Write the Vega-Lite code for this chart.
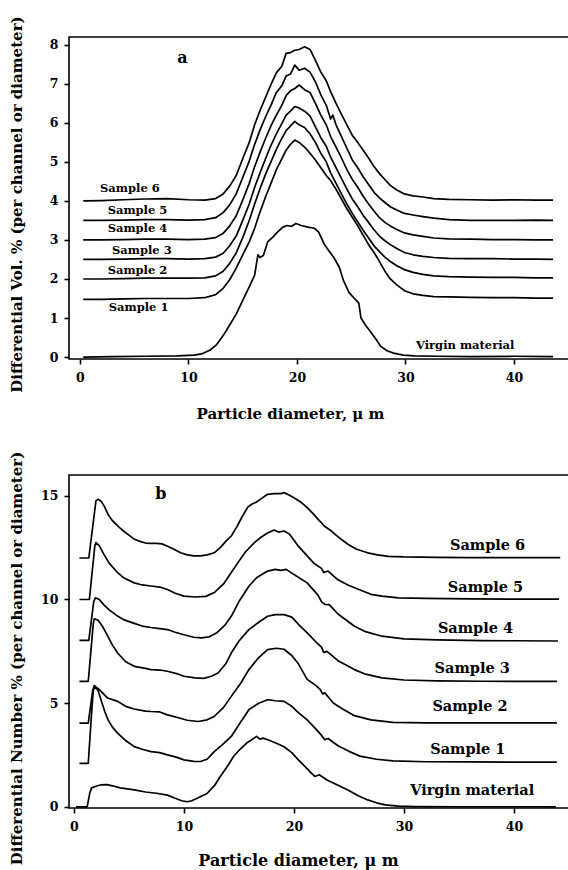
{
  "$schema": "https://vega.github.io/schema/vega-lite/v6.json",
  "autosize": {"type": "pad"},
  "padding": {"left": 8, "top": 15, "right": 0, "bottom": 2},
  "bounds": "flush",
  "spacing": 116,
  "config": {
    "font": "DejaVu Serif",
    "view": {"stroke": "black", "strokeWidth": 1.6},
    "axis": {
      "grid": false,
      "domain": false,
      "tickColor": "black",
      "tickSize": 5,
      "tickWidth": 1.6,
      "labelFont": "DejaVu Serif",
      "labelFontWeight": "bold",
      "labelFontSize": 12.5,
      "labelColor": "black",
      "titleFont": "DejaVu Serif",
      "titleFontWeight": "bold",
      "titleFontSize": 15,
      "titleColor": "black",
      "titleBaseline": "middle"
    }
  },
  "datasets": {
    "curves": [
      {"p":"a","s":"V","x":0.3,"y":0},{"p":"a","s":"V","x":3,"y":0.01},{"p":"a","s":"V","x":6,"y":0.02},{"p":"a","s":"V","x":9,"y":0.03},{"p":"a","s":"V","x":10.5,"y":0.05},{"p":"a","s":"V","x":11.2,"y":0.08},{"p":"a","s":"V","x":12,"y":0.18},{"p":"a","s":"V","x":12.6,"y":0.32},{"p":"a","s":"V","x":13.2,"y":0.55},{"p":"a","s":"V","x":13.8,"y":0.82},{"p":"a","s":"V","x":14.4,"y":1.1},{"p":"a","s":"V","x":15.0,"y":1.45},{"p":"a","s":"V","x":15.6,"y":1.8},{"p":"a","s":"V","x":16.1,"y":2.1},{"p":"a","s":"V","x":16.4,"y":2.62},{"p":"a","s":"V","x":16.6,"y":2.55},{"p":"a","s":"V","x":16.9,"y":2.6},{"p":"a","s":"V","x":17.3,"y":2.95},{"p":"a","s":"V","x":17.8,"y":3.08},{"p":"a","s":"V","x":18.2,"y":3.2},{"p":"a","s":"V","x":18.7,"y":3.33},{"p":"a","s":"V","x":19.1,"y":3.37},{"p":"a","s":"V","x":19.5,"y":3.35},{"p":"a","s":"V","x":19.9,"y":3.42},{"p":"a","s":"V","x":20.4,"y":3.37},{"p":"a","s":"V","x":21.0,"y":3.33},{"p":"a","s":"V","x":21.6,"y":3.3},{"p":"a","s":"V","x":22.0,"y":3.2},{"p":"a","s":"V","x":22.5,"y":2.9},{"p":"a","s":"V","x":23.0,"y":2.7},{"p":"a","s":"V","x":23.4,"y":2.55},{"p":"a","s":"V","x":23.9,"y":2.3},{"p":"a","s":"V","x":24.3,"y":1.95},{"p":"a","s":"V","x":24.8,"y":1.65},{"p":"a","s":"V","x":25.3,"y":1.5},{"p":"a","s":"V","x":25.7,"y":1.38},{"p":"a","s":"V","x":25.9,"y":1.0},{"p":"a","s":"V","x":26.3,"y":0.82},{"p":"a","s":"V","x":26.8,"y":0.64},{"p":"a","s":"V","x":27.3,"y":0.45},{"p":"a","s":"V","x":27.7,"y":0.28},{"p":"a","s":"V","x":28.3,"y":0.16},{"p":"a","s":"V","x":28.9,"y":0.1},{"p":"a","s":"V","x":29.8,"y":0.05},{"p":"a","s":"V","x":30.8,"y":0.03},{"p":"a","s":"V","x":33,"y":0.02},{"p":"a","s":"V","x":36,"y":0.01},{"p":"a","s":"V","x":40,"y":0.02},{"p":"a","s":"V","x":43.6,"y":0.01},

      {"p":"a","s":"S6","x":0.3,"y":4.0},{"p":"a","s":"S6","x":2,"y":4.01},{"p":"a","s":"S6","x":4,"y":4.03},{"p":"a","s":"S6","x":6,"y":4.05},{"p":"a","s":"S6","x":8,"y":4.06},{"p":"a","s":"S6","x":10,"y":4.03},{"p":"a","s":"S6","x":11.5,"y":4.02},{"p":"a","s":"S6","x":12.5,"y":4.06},{"p":"a","s":"S6","x":13.2,"y":4.18},{"p":"a","s":"S6","x":13.8,"y":4.38},{"p":"a","s":"S6","x":14.4,"y":4.65},{"p":"a","s":"S6","x":15.0,"y":5.08},{"p":"a","s":"S6","x":15.6,"y":5.5},{"p":"a","s":"S6","x":16.1,"y":5.95},{"p":"a","s":"S6","x":16.6,"y":6.32},{"p":"a","s":"S6","x":17.1,"y":6.65},{"p":"a","s":"S6","x":17.6,"y":6.98},{"p":"a","s":"S6","x":18.1,"y":7.28},{"p":"a","s":"S6","x":18.6,"y":7.45},{"p":"a","s":"S6","x":19.0,"y":7.78},{"p":"a","s":"S6","x":19.4,"y":7.8},{"p":"a","s":"S6","x":19.8,"y":7.86},{"p":"a","s":"S6","x":20.2,"y":7.88},{"p":"a","s":"S6","x":20.7,"y":7.95},{"p":"a","s":"S6","x":21.2,"y":7.88},{"p":"a","s":"S6","x":21.7,"y":7.6},{"p":"a","s":"S6","x":22.2,"y":7.3},{"p":"a","s":"S6","x":22.7,"y":7.08},{"p":"a","s":"S6","x":23.1,"y":6.8},{"p":"a","s":"S6","x":23.6,"y":6.5},{"p":"a","s":"S6","x":24.1,"y":6.22},{"p":"a","s":"S6","x":24.6,"y":5.95},{"p":"a","s":"S6","x":25.1,"y":5.68},{"p":"a","s":"S6","x":25.6,"y":5.5},{"p":"a","s":"S6","x":26.1,"y":5.3},{"p":"a","s":"S6","x":26.6,"y":5.1},{"p":"a","s":"S6","x":27.1,"y":4.88},{"p":"a","s":"S6","x":27.6,"y":4.7},{"p":"a","s":"S6","x":28.1,"y":4.55},{"p":"a","s":"S6","x":28.6,"y":4.4},{"p":"a","s":"S6","x":29.2,"y":4.28},{"p":"a","s":"S6","x":29.9,"y":4.18},{"p":"a","s":"S6","x":30.7,"y":4.13},{"p":"a","s":"S6","x":31.6,"y":4.1},{"p":"a","s":"S6","x":32.6,"y":4.06},{"p":"a","s":"S6","x":34,"y":4.04},{"p":"a","s":"S6","x":36,"y":4.03},{"p":"a","s":"S6","x":38,"y":4.02},{"p":"a","s":"S6","x":40,"y":4.03},{"p":"a","s":"S6","x":42,"y":4.02},{"p":"a","s":"S6","x":43.6,"y":4.02},

      {"p":"a","s":"S5","x":0.3,"y":3.5},{"p":"a","s":"S5","x":2,"y":3.5},{"p":"a","s":"S5","x":4,"y":3.51},{"p":"a","s":"S5","x":6,"y":3.52},{"p":"a","s":"S5","x":8,"y":3.52},{"p":"a","s":"S5","x":10,"y":3.51},{"p":"a","s":"S5","x":11.5,"y":3.52},{"p":"a","s":"S5","x":12.5,"y":3.57},{"p":"a","s":"S5","x":13.2,"y":3.7},{"p":"a","s":"S5","x":13.8,"y":3.9},{"p":"a","s":"S5","x":14.4,"y":4.18},{"p":"a","s":"S5","x":15.0,"y":4.6},{"p":"a","s":"S5","x":15.6,"y":5.02},{"p":"a","s":"S5","x":16.1,"y":5.45},{"p":"a","s":"S5","x":16.6,"y":5.82},{"p":"a","s":"S5","x":17.1,"y":6.15},{"p":"a","s":"S5","x":17.6,"y":6.45},{"p":"a","s":"S5","x":18.1,"y":6.78},{"p":"a","s":"S5","x":18.6,"y":6.95},{"p":"a","s":"S5","x":19.0,"y":7.2},{"p":"a","s":"S5","x":19.4,"y":7.25},{"p":"a","s":"S5","x":19.8,"y":7.48},{"p":"a","s":"S5","x":20.2,"y":7.35},{"p":"a","s":"S5","x":20.7,"y":7.4},{"p":"a","s":"S5","x":21.2,"y":7.3},{"p":"a","s":"S5","x":21.7,"y":7.05},{"p":"a","s":"S5","x":22.2,"y":6.72},{"p":"a","s":"S5","x":22.7,"y":6.45},{"p":"a","s":"S5","x":23.1,"y":6.1},{"p":"a","s":"S5","x":23.3,"y":6.2},{"p":"a","s":"S5","x":23.6,"y":5.95},{"p":"a","s":"S5","x":24.1,"y":5.65},{"p":"a","s":"S5","x":24.6,"y":5.35},{"p":"a","s":"S5","x":25.1,"y":5.05},{"p":"a","s":"S5","x":25.6,"y":4.85},{"p":"a","s":"S5","x":26.1,"y":4.62},{"p":"a","s":"S5","x":26.6,"y":4.42},{"p":"a","s":"S5","x":27.1,"y":4.22},{"p":"a","s":"S5","x":27.6,"y":4.08},{"p":"a","s":"S5","x":28.1,"y":3.96},{"p":"a","s":"S5","x":28.6,"y":3.85},{"p":"a","s":"S5","x":29.2,"y":3.77},{"p":"a","s":"S5","x":29.9,"y":3.68},{"p":"a","s":"S5","x":30.7,"y":3.64},{"p":"a","s":"S5","x":31.6,"y":3.6},{"p":"a","s":"S5","x":32.6,"y":3.56},{"p":"a","s":"S5","x":34,"y":3.52},{"p":"a","s":"S5","x":36,"y":3.5},{"p":"a","s":"S5","x":38,"y":3.5},{"p":"a","s":"S5","x":40,"y":3.5},{"p":"a","s":"S5","x":42,"y":3.51},{"p":"a","s":"S5","x":43.6,"y":3.5},

      {"p":"a","s":"S4","x":0.3,"y":3.0},{"p":"a","s":"S4","x":2,"y":3.0},{"p":"a","s":"S4","x":4,"y":3.01},{"p":"a","s":"S4","x":6,"y":3.02},{"p":"a","s":"S4","x":8,"y":3.02},{"p":"a","s":"S4","x":10,"y":3.01},{"p":"a","s":"S4","x":11.5,"y":3.02},{"p":"a","s":"S4","x":12.5,"y":3.06},{"p":"a","s":"S4","x":13.2,"y":3.17},{"p":"a","s":"S4","x":13.8,"y":3.36},{"p":"a","s":"S4","x":14.4,"y":3.62},{"p":"a","s":"S4","x":15.0,"y":4.02},{"p":"a","s":"S4","x":15.6,"y":4.45},{"p":"a","s":"S4","x":16.1,"y":4.88},{"p":"a","s":"S4","x":16.6,"y":5.25},{"p":"a","s":"S4","x":17.1,"y":5.6},{"p":"a","s":"S4","x":17.6,"y":5.92},{"p":"a","s":"S4","x":18.1,"y":6.2},{"p":"a","s":"S4","x":18.6,"y":6.45},{"p":"a","s":"S4","x":19.0,"y":6.7},{"p":"a","s":"S4","x":19.4,"y":6.82},{"p":"a","s":"S4","x":19.8,"y":6.88},{"p":"a","s":"S4","x":20.2,"y":6.97},{"p":"a","s":"S4","x":20.7,"y":6.85},{"p":"a","s":"S4","x":21.2,"y":6.78},{"p":"a","s":"S4","x":21.7,"y":6.5},{"p":"a","s":"S4","x":22.2,"y":6.2},{"p":"a","s":"S4","x":22.7,"y":5.95},{"p":"a","s":"S4","x":23.1,"y":5.65},{"p":"a","s":"S4","x":23.6,"y":5.38},{"p":"a","s":"S4","x":24.1,"y":5.1},{"p":"a","s":"S4","x":24.6,"y":4.8},{"p":"a","s":"S4","x":25.1,"y":4.55},{"p":"a","s":"S4","x":25.6,"y":4.35},{"p":"a","s":"S4","x":26.1,"y":4.12},{"p":"a","s":"S4","x":26.6,"y":3.92},{"p":"a","s":"S4","x":27.1,"y":3.74},{"p":"a","s":"S4","x":27.6,"y":3.57},{"p":"a","s":"S4","x":28.1,"y":3.45},{"p":"a","s":"S4","x":28.6,"y":3.36},{"p":"a","s":"S4","x":29.2,"y":3.27},{"p":"a","s":"S4","x":29.9,"y":3.18},{"p":"a","s":"S4","x":30.7,"y":3.13},{"p":"a","s":"S4","x":31.6,"y":3.09},{"p":"a","s":"S4","x":32.6,"y":3.05},{"p":"a","s":"S4","x":34,"y":3.03},{"p":"a","s":"S4","x":36,"y":3.02},{"p":"a","s":"S4","x":38,"y":3.01},{"p":"a","s":"S4","x":40,"y":3.01},{"p":"a","s":"S4","x":42,"y":3.0},{"p":"a","s":"S4","x":43.6,"y":3.0},

      {"p":"a","s":"S3","x":0.3,"y":2.5},{"p":"a","s":"S3","x":2,"y":2.5},{"p":"a","s":"S3","x":4,"y":2.51},{"p":"a","s":"S3","x":6,"y":2.52},{"p":"a","s":"S3","x":8,"y":2.52},{"p":"a","s":"S3","x":10,"y":2.51},{"p":"a","s":"S3","x":11.5,"y":2.52},{"p":"a","s":"S3","x":12.5,"y":2.56},{"p":"a","s":"S3","x":13.2,"y":2.66},{"p":"a","s":"S3","x":13.8,"y":2.85},{"p":"a","s":"S3","x":14.4,"y":3.1},{"p":"a","s":"S3","x":15.0,"y":3.5},{"p":"a","s":"S3","x":15.6,"y":3.92},{"p":"a","s":"S3","x":16.1,"y":4.35},{"p":"a","s":"S3","x":16.6,"y":4.72},{"p":"a","s":"S3","x":17.1,"y":5.08},{"p":"a","s":"S3","x":17.6,"y":5.42},{"p":"a","s":"S3","x":18.1,"y":5.72},{"p":"a","s":"S3","x":18.6,"y":5.98},{"p":"a","s":"S3","x":19.0,"y":6.2},{"p":"a","s":"S3","x":19.4,"y":6.3},{"p":"a","s":"S3","x":19.8,"y":6.42},{"p":"a","s":"S3","x":20.2,"y":6.38},{"p":"a","s":"S3","x":20.7,"y":6.3},{"p":"a","s":"S3","x":21.2,"y":6.18},{"p":"a","s":"S3","x":21.7,"y":5.9},{"p":"a","s":"S3","x":22.2,"y":5.62},{"p":"a","s":"S3","x":22.7,"y":5.4},{"p":"a","s":"S3","x":23.1,"y":5.12},{"p":"a","s":"S3","x":23.6,"y":4.85},{"p":"a","s":"S3","x":24.1,"y":4.58},{"p":"a","s":"S3","x":24.6,"y":4.3},{"p":"a","s":"S3","x":25.1,"y":4.05},{"p":"a","s":"S3","x":25.6,"y":3.85},{"p":"a","s":"S3","x":26.1,"y":3.63},{"p":"a","s":"S3","x":26.6,"y":3.45},{"p":"a","s":"S3","x":27.1,"y":3.26},{"p":"a","s":"S3","x":27.6,"y":3.1},{"p":"a","s":"S3","x":28.1,"y":2.98},{"p":"a","s":"S3","x":28.6,"y":2.88},{"p":"a","s":"S3","x":29.2,"y":2.78},{"p":"a","s":"S3","x":29.9,"y":2.68},{"p":"a","s":"S3","x":30.7,"y":2.62},{"p":"a","s":"S3","x":31.6,"y":2.58},{"p":"a","s":"S3","x":32.6,"y":2.55},{"p":"a","s":"S3","x":34,"y":2.53},{"p":"a","s":"S3","x":36,"y":2.52},{"p":"a","s":"S3","x":38,"y":2.52},{"p":"a","s":"S3","x":40,"y":2.51},{"p":"a","s":"S3","x":42,"y":2.51},{"p":"a","s":"S3","x":43.6,"y":2.5},

      {"p":"a","s":"S2","x":0.3,"y":2.0},{"p":"a","s":"S2","x":2,"y":2.0},{"p":"a","s":"S2","x":4,"y":2.01},{"p":"a","s":"S2","x":6,"y":2.02},{"p":"a","s":"S2","x":8,"y":2.02},{"p":"a","s":"S2","x":10,"y":2.02},{"p":"a","s":"S2","x":11.5,"y":2.03},{"p":"a","s":"S2","x":12.5,"y":2.08},{"p":"a","s":"S2","x":13.2,"y":2.2},{"p":"a","s":"S2","x":13.8,"y":2.4},{"p":"a","s":"S2","x":14.4,"y":2.67},{"p":"a","s":"S2","x":15.0,"y":3.06},{"p":"a","s":"S2","x":15.6,"y":3.5},{"p":"a","s":"S2","x":16.1,"y":3.92},{"p":"a","s":"S2","x":16.6,"y":4.32},{"p":"a","s":"S2","x":17.1,"y":4.68},{"p":"a","s":"S2","x":17.6,"y":5.0},{"p":"a","s":"S2","x":18.1,"y":5.32},{"p":"a","s":"S2","x":18.6,"y":5.6},{"p":"a","s":"S2","x":19.0,"y":5.8},{"p":"a","s":"S2","x":19.4,"y":5.92},{"p":"a","s":"S2","x":19.8,"y":6.04},{"p":"a","s":"S2","x":20.2,"y":5.95},{"p":"a","s":"S2","x":20.7,"y":5.88},{"p":"a","s":"S2","x":21.2,"y":5.72},{"p":"a","s":"S2","x":21.7,"y":5.5},{"p":"a","s":"S2","x":22.2,"y":5.22},{"p":"a","s":"S2","x":22.7,"y":5.0},{"p":"a","s":"S2","x":23.1,"y":4.72},{"p":"a","s":"S2","x":23.6,"y":4.45},{"p":"a","s":"S2","x":24.1,"y":4.18},{"p":"a","s":"S2","x":24.6,"y":3.92},{"p":"a","s":"S2","x":25.1,"y":3.68},{"p":"a","s":"S2","x":25.6,"y":3.46},{"p":"a","s":"S2","x":26.1,"y":3.25},{"p":"a","s":"S2","x":26.6,"y":3.05},{"p":"a","s":"S2","x":27.1,"y":2.85},{"p":"a","s":"S2","x":27.6,"y":2.7},{"p":"a","s":"S2","x":28.1,"y":2.56},{"p":"a","s":"S2","x":28.6,"y":2.45},{"p":"a","s":"S2","x":29.2,"y":2.34},{"p":"a","s":"S2","x":29.9,"y":2.24},{"p":"a","s":"S2","x":30.7,"y":2.17},{"p":"a","s":"S2","x":31.6,"y":2.12},{"p":"a","s":"S2","x":32.6,"y":2.08},{"p":"a","s":"S2","x":34,"y":2.06},{"p":"a","s":"S2","x":36,"y":2.05},{"p":"a","s":"S2","x":38,"y":2.04},{"p":"a","s":"S2","x":40,"y":2.04},{"p":"a","s":"S2","x":42,"y":2.03},{"p":"a","s":"S2","x":43.6,"y":2.03},

      {"p":"a","s":"S1","x":0.3,"y":1.48},{"p":"a","s":"S1","x":2,"y":1.48},{"p":"a","s":"S1","x":4,"y":1.49},{"p":"a","s":"S1","x":6,"y":1.5},{"p":"a","s":"S1","x":8,"y":1.5},{"p":"a","s":"S1","x":10,"y":1.5},{"p":"a","s":"S1","x":11.5,"y":1.52},{"p":"a","s":"S1","x":12.5,"y":1.6},{"p":"a","s":"S1","x":13.2,"y":1.76},{"p":"a","s":"S1","x":13.8,"y":1.98},{"p":"a","s":"S1","x":14.4,"y":2.28},{"p":"a","s":"S1","x":15.0,"y":2.62},{"p":"a","s":"S1","x":15.6,"y":2.95},{"p":"a","s":"S1","x":16.1,"y":3.3},{"p":"a","s":"S1","x":16.6,"y":3.72},{"p":"a","s":"S1","x":17.1,"y":4.1},{"p":"a","s":"S1","x":17.6,"y":4.45},{"p":"a","s":"S1","x":18.1,"y":4.8},{"p":"a","s":"S1","x":18.6,"y":5.08},{"p":"a","s":"S1","x":19.0,"y":5.3},{"p":"a","s":"S1","x":19.4,"y":5.45},{"p":"a","s":"S1","x":19.8,"y":5.56},{"p":"a","s":"S1","x":20.2,"y":5.5},{"p":"a","s":"S1","x":20.7,"y":5.38},{"p":"a","s":"S1","x":21.2,"y":5.22},{"p":"a","s":"S1","x":21.7,"y":5.05},{"p":"a","s":"S1","x":22.2,"y":4.85},{"p":"a","s":"S1","x":22.7,"y":4.65},{"p":"a","s":"S1","x":23.1,"y":4.52},{"p":"a","s":"S1","x":23.6,"y":4.3},{"p":"a","s":"S1","x":24.1,"y":4.05},{"p":"a","s":"S1","x":24.6,"y":3.8},{"p":"a","s":"S1","x":25.1,"y":3.58},{"p":"a","s":"S1","x":25.6,"y":3.36},{"p":"a","s":"S1","x":26.1,"y":3.12},{"p":"a","s":"S1","x":26.6,"y":2.88},{"p":"a","s":"S1","x":27.1,"y":2.68},{"p":"a","s":"S1","x":27.6,"y":2.45},{"p":"a","s":"S1","x":28.1,"y":2.2},{"p":"a","s":"S1","x":28.6,"y":2.0},{"p":"a","s":"S1","x":29.2,"y":1.85},{"p":"a","s":"S1","x":29.9,"y":1.7},{"p":"a","s":"S1","x":30.7,"y":1.62},{"p":"a","s":"S1","x":31.6,"y":1.58},{"p":"a","s":"S1","x":32.6,"y":1.55},{"p":"a","s":"S1","x":34,"y":1.54},{"p":"a","s":"S1","x":36,"y":1.53},{"p":"a","s":"S1","x":38,"y":1.52},{"p":"a","s":"S1","x":40,"y":1.52},{"p":"a","s":"S1","x":42,"y":1.51},{"p":"a","s":"S1","x":43.6,"y":1.51},

      {"p":"b","s":"V","x":0.2,"y":0},{"p":"b","s":"V","x":1.2,"y":0},{"p":"b","s":"V","x":1.45,"y":0.7},{"p":"b","s":"V","x":1.6,"y":0.92},{"p":"b","s":"V","x":2.0,"y":1.0},{"p":"b","s":"V","x":2.4,"y":1.06},{"p":"b","s":"V","x":3.0,"y":1.08},{"p":"b","s":"V","x":3.5,"y":1.02},{"p":"b","s":"V","x":4.2,"y":0.92},{"p":"b","s":"V","x":5.5,"y":0.82},{"p":"b","s":"V","x":6.5,"y":0.72},{"p":"b","s":"V","x":7.5,"y":0.66},{"p":"b","s":"V","x":8.5,"y":0.57},{"p":"b","s":"V","x":9.2,"y":0.42},{"p":"b","s":"V","x":9.8,"y":0.3},{"p":"b","s":"V","x":10.3,"y":0.25},{"p":"b","s":"V","x":10.7,"y":0.3},{"p":"b","s":"V","x":11.2,"y":0.42},{"p":"b","s":"V","x":12.1,"y":0.65},{"p":"b","s":"V","x":12.8,"y":1.05},{"p":"b","s":"V","x":13.3,"y":1.47},{"p":"b","s":"V","x":14.0,"y":2.0},{"p":"b","s":"V","x":14.5,"y":2.43},{"p":"b","s":"V","x":15.1,"y":2.78},{"p":"b","s":"V","x":15.7,"y":3.08},{"p":"b","s":"V","x":16.2,"y":3.25},{"p":"b","s":"V","x":16.6,"y":3.4},{"p":"b","s":"V","x":16.9,"y":3.27},{"p":"b","s":"V","x":17.2,"y":3.32},{"p":"b","s":"V","x":17.8,"y":3.2},{"p":"b","s":"V","x":18.5,"y":3.05},{"p":"b","s":"V","x":19.1,"y":2.9},{"p":"b","s":"V","x":19.8,"y":2.62},{"p":"b","s":"V","x":20.4,"y":2.27},{"p":"b","s":"V","x":21.1,"y":1.9},{"p":"b","s":"V","x":21.6,"y":1.62},{"p":"b","s":"V","x":21.9,"y":1.47},{"p":"b","s":"V","x":22.3,"y":1.55},{"p":"b","s":"V","x":23.0,"y":1.3},{"p":"b","s":"V","x":24.0,"y":1.05},{"p":"b","s":"V","x":24.9,"y":0.82},{"p":"b","s":"V","x":25.8,"y":0.55},{"p":"b","s":"V","x":26.7,"y":0.34},{"p":"b","s":"V","x":27.5,"y":0.2},{"p":"b","s":"V","x":28.3,"y":0.1},{"p":"b","s":"V","x":29.5,"y":0.04},{"p":"b","s":"V","x":31,"y":0.02},{"p":"b","s":"V","x":35,"y":0.01},{"p":"b","s":"V","x":40,"y":0.01},{"p":"b","s":"V","x":43.8,"y":0.0},

      {"p":"b","s":"S6","x":0.5,"y":12.0},{"p":"b","s":"S6","x":1.35,"y":12.0},{"p":"b","s":"S6","x":2.0,"y":14.75},{"p":"b","s":"S6","x":2.2,"y":14.83},{"p":"b","s":"S6","x":2.5,"y":14.72},{"p":"b","s":"S6","x":2.8,"y":14.45},{"p":"b","s":"S6","x":3.1,"y":14.1},{"p":"b","s":"S6","x":3.5,"y":13.8},{"p":"b","s":"S6","x":4.0,"y":13.54},{"p":"b","s":"S6","x":4.5,"y":13.3},{"p":"b","s":"S6","x":5.0,"y":13.1},{"p":"b","s":"S6","x":5.5,"y":12.9},{"p":"b","s":"S6","x":6.0,"y":12.8},{"p":"b","s":"S6","x":6.5,"y":12.72},{"p":"b","s":"S6","x":7.0,"y":12.7},{"p":"b","s":"S6","x":7.5,"y":12.7},{"p":"b","s":"S6","x":8.0,"y":12.68},{"p":"b","s":"S6","x":8.5,"y":12.57},{"p":"b","s":"S6","x":9.0,"y":12.45},{"p":"b","s":"S6","x":9.7,"y":12.25},{"p":"b","s":"S6","x":10.3,"y":12.15},{"p":"b","s":"S6","x":10.9,"y":12.1},{"p":"b","s":"S6","x":11.5,"y":12.1},{"p":"b","s":"S6","x":12.1,"y":12.15},{"p":"b","s":"S6","x":12.75,"y":12.25},{"p":"b","s":"S6","x":13.3,"y":12.5},{"p":"b","s":"S6","x":13.8,"y":12.8},{"p":"b","s":"S6","x":14.3,"y":13.06},{"p":"b","s":"S6","x":14.8,"y":13.5},{"p":"b","s":"S6","x":15.3,"y":14.0},{"p":"b","s":"S6","x":15.8,"y":14.45},{"p":"b","s":"S6","x":16.2,"y":14.6},{"p":"b","s":"S6","x":16.6,"y":14.7},{"p":"b","s":"S6","x":17.0,"y":14.85},{"p":"b","s":"S6","x":17.6,"y":15.07},{"p":"b","s":"S6","x":18.2,"y":15.1},{"p":"b","s":"S6","x":18.8,"y":15.1},{"p":"b","s":"S6","x":19.1,"y":15.15},{"p":"b","s":"S6","x":19.5,"y":15.05},{"p":"b","s":"S6","x":20.0,"y":14.9},{"p":"b","s":"S6","x":20.6,"y":14.7},{"p":"b","s":"S6","x":21.2,"y":14.43},{"p":"b","s":"S6","x":21.8,"y":14.1},{"p":"b","s":"S6","x":22.3,"y":13.8},{"p":"b","s":"S6","x":22.5,"y":13.7},{"p":"b","s":"S6","x":22.75,"y":13.54},{"p":"b","s":"S6","x":23.4,"y":13.3},{"p":"b","s":"S6","x":24.1,"y":12.98},{"p":"b","s":"S6","x":24.9,"y":12.66},{"p":"b","s":"S6","x":25.7,"y":12.42},{"p":"b","s":"S6","x":26.7,"y":12.25},{"p":"b","s":"S6","x":27.6,"y":12.15},{"p":"b","s":"S6","x":28.6,"y":12.08},{"p":"b","s":"S6","x":30,"y":12.05},{"p":"b","s":"S6","x":33,"y":12.03},{"p":"b","s":"S6","x":36,"y":12.02},{"p":"b","s":"S6","x":40,"y":12.02},{"p":"b","s":"S6","x":44.2,"y":12.02},

      {"p":"b","s":"S5","x":0.5,"y":10.0},{"p":"b","s":"S5","x":1.4,"y":10.0},{"p":"b","s":"S5","x":1.9,"y":12.6},{"p":"b","s":"S5","x":2.0,"y":12.74},{"p":"b","s":"S5","x":2.3,"y":12.6},{"p":"b","s":"S5","x":2.7,"y":12.2},{"p":"b","s":"S5","x":3.2,"y":11.75},{"p":"b","s":"S5","x":3.97,"y":11.29},{"p":"b","s":"S5","x":4.5,"y":11.05},{"p":"b","s":"S5","x":5.48,"y":10.8},{"p":"b","s":"S5","x":6.2,"y":10.7},{"p":"b","s":"S5","x":7.0,"y":10.65},{"p":"b","s":"S5","x":7.8,"y":10.6},{"p":"b","s":"S5","x":8.5,"y":10.48},{"p":"b","s":"S5","x":9.2,"y":10.3},{"p":"b","s":"S5","x":10.0,"y":10.16},{"p":"b","s":"S5","x":11.0,"y":10.12},{"p":"b","s":"S5","x":12.0,"y":10.15},{"p":"b","s":"S5","x":12.8,"y":10.35},{"p":"b","s":"S5","x":13.6,"y":10.75},{"p":"b","s":"S5","x":14.3,"y":11.3},{"p":"b","s":"S5","x":15.0,"y":11.85},{"p":"b","s":"S5","x":15.6,"y":12.3},{"p":"b","s":"S5","x":16.4,"y":12.74},{"p":"b","s":"S5","x":17.0,"y":13.0},{"p":"b","s":"S5","x":17.6,"y":13.2},{"p":"b","s":"S5","x":18.2,"y":13.35},{"p":"b","s":"S5","x":18.6,"y":13.25},{"p":"b","s":"S5","x":19.1,"y":13.3},{"p":"b","s":"S5","x":19.6,"y":13.15},{"p":"b","s":"S5","x":20.4,"y":12.57},{"p":"b","s":"S5","x":21.2,"y":12.1},{"p":"b","s":"S5","x":21.8,"y":11.75},{"p":"b","s":"S5","x":22.5,"y":11.5},{"p":"b","s":"S5","x":22.7,"y":11.3},{"p":"b","s":"S5","x":23.1,"y":11.37},{"p":"b","s":"S5","x":24.0,"y":10.95},{"p":"b","s":"S5","x":24.9,"y":10.7},{"p":"b","s":"S5","x":25.9,"y":10.48},{"p":"b","s":"S5","x":27.0,"y":10.25},{"p":"b","s":"S5","x":28.0,"y":10.16},{"p":"b","s":"S5","x":29.5,"y":10.08},{"p":"b","s":"S5","x":32,"y":10.05},{"p":"b","s":"S5","x":36,"y":10.03},{"p":"b","s":"S5","x":40,"y":10.02},{"p":"b","s":"S5","x":44.1,"y":10.02},

      {"p":"b","s":"S4","x":0.5,"y":8.03},{"p":"b","s":"S4","x":1.35,"y":8.03},{"p":"b","s":"S4","x":1.8,"y":9.9},{"p":"b","s":"S4","x":1.95,"y":10.08},{"p":"b","s":"S4","x":2.3,"y":10.0},{"p":"b","s":"S4","x":2.7,"y":9.75},{"p":"b","s":"S4","x":3.2,"y":9.5},{"p":"b","s":"S4","x":3.97,"y":9.2},{"p":"b","s":"S4","x":4.5,"y":9.03},{"p":"b","s":"S4","x":5.48,"y":8.85},{"p":"b","s":"S4","x":6.2,"y":8.72},{"p":"b","s":"S4","x":7.0,"y":8.65},{"p":"b","s":"S4","x":7.8,"y":8.6},{"p":"b","s":"S4","x":8.5,"y":8.55},{"p":"b","s":"S4","x":9.2,"y":8.42},{"p":"b","s":"S4","x":10.0,"y":8.3},{"p":"b","s":"S4","x":10.9,"y":8.18},{"p":"b","s":"S4","x":11.6,"y":8.15},{"p":"b","s":"S4","x":12.3,"y":8.2},{"p":"b","s":"S4","x":13.0,"y":8.4},{"p":"b","s":"S4","x":13.7,"y":8.75},{"p":"b","s":"S4","x":14.3,"y":9.19},{"p":"b","s":"S4","x":15.0,"y":9.9},{"p":"b","s":"S4","x":15.9,"y":10.64},{"p":"b","s":"S4","x":16.6,"y":11.05},{"p":"b","s":"S4","x":17.6,"y":11.37},{"p":"b","s":"S4","x":18.3,"y":11.45},{"p":"b","s":"S4","x":18.8,"y":11.4},{"p":"b","s":"S4","x":19.3,"y":11.45},{"p":"b","s":"S4","x":20.0,"y":11.2},{"p":"b","s":"S4","x":21.2,"y":10.8},{"p":"b","s":"S4","x":22.2,"y":10.2},{"p":"b","s":"S4","x":22.5,"y":9.9},{"p":"b","s":"S4","x":22.8,"y":9.76},{"p":"b","s":"S4","x":23.2,"y":9.75},{"p":"b","s":"S4","x":24.0,"y":9.3},{"p":"b","s":"S4","x":25.5,"y":8.71},{"p":"b","s":"S4","x":26.5,"y":8.45},{"p":"b","s":"S4","x":28.0,"y":8.23},{"p":"b","s":"S4","x":30,"y":8.1},{"p":"b","s":"S4","x":33,"y":8.05},{"p":"b","s":"S4","x":37,"y":8.02},{"p":"b","s":"S4","x":40,"y":8.01},{"p":"b","s":"S4","x":44.0,"y":8.0},

      {"p":"b","s":"S3","x":0.5,"y":6.05},{"p":"b","s":"S3","x":1.3,"y":6.05},{"p":"b","s":"S3","x":1.75,"y":8.8},{"p":"b","s":"S3","x":1.85,"y":9.07},{"p":"b","s":"S3","x":2.2,"y":9.0},{"p":"b","s":"S3","x":2.6,"y":8.7},{"p":"b","s":"S3","x":3.06,"y":8.25},{"p":"b","s":"S3","x":3.5,"y":7.8},{"p":"b","s":"S3","x":3.97,"y":7.42},{"p":"b","s":"S3","x":4.7,"y":7.0},{"p":"b","s":"S3","x":5.48,"y":6.78},{"p":"b","s":"S3","x":6.5,"y":6.68},{"p":"b","s":"S3","x":7.0,"y":6.62},{"p":"b","s":"S3","x":7.8,"y":6.6},{"p":"b","s":"S3","x":8.5,"y":6.54},{"p":"b","s":"S3","x":9.5,"y":6.4},{"p":"b","s":"S3","x":10.0,"y":6.3},{"p":"b","s":"S3","x":11.0,"y":6.22},{"p":"b","s":"S3","x":11.8,"y":6.2},{"p":"b","s":"S3","x":12.5,"y":6.3},{"p":"b","s":"S3","x":13.1,"y":6.46},{"p":"b","s":"S3","x":13.8,"y":6.9},{"p":"b","s":"S3","x":14.3,"y":7.42},{"p":"b","s":"S3","x":15.0,"y":8.0},{"p":"b","s":"S3","x":15.9,"y":8.55},{"p":"b","s":"S3","x":16.8,"y":8.9},{"p":"b","s":"S3","x":17.6,"y":9.19},{"p":"b","s":"S3","x":18.3,"y":9.27},{"p":"b","s":"S3","x":19.1,"y":9.27},{"p":"b","s":"S3","x":19.8,"y":9.15},{"p":"b","s":"S3","x":20.5,"y":8.75},{"p":"b","s":"S3","x":21.2,"y":8.39},{"p":"b","s":"S3","x":22.0,"y":7.95},{"p":"b","s":"S3","x":22.5,"y":7.7},{"p":"b","s":"S3","x":22.7,"y":7.45},{"p":"b","s":"S3","x":23.0,"y":7.5},{"p":"b","s":"S3","x":24.0,"y":7.05},{"p":"b","s":"S3","x":25.5,"y":6.62},{"p":"b","s":"S3","x":26.5,"y":6.4},{"p":"b","s":"S3","x":28.0,"y":6.22},{"p":"b","s":"S3","x":30,"y":6.12},{"p":"b","s":"S3","x":33,"y":6.08},{"p":"b","s":"S3","x":37,"y":6.06},{"p":"b","s":"S3","x":40,"y":6.05},{"p":"b","s":"S3","x":43.9,"y":6.05},

      {"p":"b","s":"S2","x":0.5,"y":4.04},{"p":"b","s":"S2","x":1.3,"y":4.04},{"p":"b","s":"S2","x":1.7,"y":5.6},{"p":"b","s":"S2","x":1.85,"y":5.85},{"p":"b","s":"S2","x":2.2,"y":5.7},{"p":"b","s":"S2","x":2.6,"y":5.5},{"p":"b","s":"S2","x":3.06,"y":5.25},{"p":"b","s":"S2","x":3.97,"y":5.09},{"p":"b","s":"S2","x":4.7,"y":4.85},{"p":"b","s":"S2","x":5.48,"y":4.72},{"p":"b","s":"S2","x":6.5,"y":4.62},{"p":"b","s":"S2","x":7.0,"y":4.6},{"p":"b","s":"S2","x":7.8,"y":4.58},{"p":"b","s":"S2","x":8.5,"y":4.44},{"p":"b","s":"S2","x":9.5,"y":4.3},{"p":"b","s":"S2","x":10.3,"y":4.18},{"p":"b","s":"S2","x":11.3,"y":4.12},{"p":"b","s":"S2","x":12.1,"y":4.2},{"p":"b","s":"S2","x":12.75,"y":4.36},{"p":"b","s":"S2","x":13.6,"y":4.8},{"p":"b","s":"S2","x":14.3,"y":5.33},{"p":"b","s":"S2","x":15.2,"y":6.0},{"p":"b","s":"S2","x":15.9,"y":6.62},{"p":"b","s":"S2","x":16.8,"y":7.2},{"p":"b","s":"S2","x":17.6,"y":7.58},{"p":"b","s":"S2","x":18.4,"y":7.65},{"p":"b","s":"S2","x":19.1,"y":7.6},{"p":"b","s":"S2","x":19.8,"y":7.3},{"p":"b","s":"S2","x":20.4,"y":6.9},{"p":"b","s":"S2","x":21.2,"y":6.15},{"p":"b","s":"S2","x":22.0,"y":5.85},{"p":"b","s":"S2","x":22.4,"y":5.65},{"p":"b","s":"S2","x":22.6,"y":5.45},{"p":"b","s":"S2","x":22.8,"y":5.5},{"p":"b","s":"S2","x":23.6,"y":5.0},{"p":"b","s":"S2","x":24.5,"y":4.7},{"p":"b","s":"S2","x":25.5,"y":4.4},{"p":"b","s":"S2","x":27,"y":4.2},{"p":"b","s":"S2","x":29,"y":4.08},{"p":"b","s":"S2","x":32,"y":4.05},{"p":"b","s":"S2","x":36,"y":4.05},{"p":"b","s":"S2","x":40,"y":4.05},{"p":"b","s":"S2","x":43.9,"y":4.05},

      {"p":"b","s":"S1","x":0.5,"y":2.1},{"p":"b","s":"S1","x":1.3,"y":2.1},{"p":"b","s":"S1","x":1.6,"y":4.5},{"p":"b","s":"S1","x":1.75,"y":5.6},{"p":"b","s":"S1","x":1.9,"y":5.82},{"p":"b","s":"S1","x":2.2,"y":5.6},{"p":"b","s":"S1","x":2.5,"y":5.1},{"p":"b","s":"S1","x":2.8,"y":4.6},{"p":"b","s":"S1","x":3.1,"y":4.2},{"p":"b","s":"S1","x":3.5,"y":3.85},{"p":"b","s":"S1","x":3.97,"y":3.56},{"p":"b","s":"S1","x":4.7,"y":3.2},{"p":"b","s":"S1","x":5.48,"y":2.91},{"p":"b","s":"S1","x":6.2,"y":2.78},{"p":"b","s":"S1","x":7.0,"y":2.67},{"p":"b","s":"S1","x":7.8,"y":2.62},{"p":"b","s":"S1","x":8.5,"y":2.51},{"p":"b","s":"S1","x":9.3,"y":2.4},{"p":"b","s":"S1","x":10.0,"y":2.27},{"p":"b","s":"S1","x":10.9,"y":2.2},{"p":"b","s":"S1","x":11.5,"y":2.19},{"p":"b","s":"S1","x":12.1,"y":2.3},{"p":"b","s":"S1","x":12.75,"y":2.67},{"p":"b","s":"S1","x":13.5,"y":3.0},{"p":"b","s":"S1","x":14.3,"y":3.4},{"p":"b","s":"S1","x":15.1,"y":4.05},{"p":"b","s":"S1","x":15.9,"y":4.69},{"p":"b","s":"S1","x":16.8,"y":5.0},{"p":"b","s":"S1","x":17.6,"y":5.17},{"p":"b","s":"S1","x":18.3,"y":5.12},{"p":"b","s":"S1","x":19.1,"y":5.09},{"p":"b","s":"S1","x":19.8,"y":4.85},{"p":"b","s":"S1","x":20.4,"y":4.55},{"p":"b","s":"S1","x":21.2,"y":4.2},{"p":"b","s":"S1","x":22.0,"y":3.75},{"p":"b","s":"S1","x":22.5,"y":3.45},{"p":"b","s":"S1","x":22.8,"y":3.24},{"p":"b","s":"S1","x":23.1,"y":3.3},{"p":"b","s":"S1","x":24.0,"y":2.95},{"p":"b","s":"S1","x":25.0,"y":2.68},{"p":"b","s":"S1","x":26.0,"y":2.45},{"p":"b","s":"S1","x":27.5,"y":2.3},{"p":"b","s":"S1","x":29,"y":2.22},{"p":"b","s":"S1","x":32,"y":2.18},{"p":"b","s":"S1","x":36,"y":2.17},{"p":"b","s":"S1","x":40,"y":2.16},{"p":"b","s":"S1","x":43.9,"y":2.16}
    ],
    "notes": [
      {"p":"a","k":"panel","x":9.45,"y":7.67,"t":"a"},
      {"p":"a","k":"curve","x":4.6,"y":4.3,"t":"Sample 6"},
      {"p":"a","k":"curve","x":5.3,"y":3.74,"t":"Sample 5"},
      {"p":"a","k":"curve","x":5.3,"y":3.28,"t":"Sample 4"},
      {"p":"a","k":"curve","x":5.7,"y":2.72,"t":"Sample 3"},
      {"p":"a","k":"curve","x":5.3,"y":2.21,"t":"Sample 2"},
      {"p":"a","k":"curve","x":5.4,"y":1.25,"t":"Sample 1"},
      {"p":"a","k":"curve","x":35.5,"y":0.28,"t":"Virgin material"},
      {"p":"b","k":"panel","x":7.9,"y":15.07,"t":"b"},
      {"p":"b","k":"curve","x":37.6,"y":12.57,"t":"Sample 6"},
      {"p":"b","k":"curve","x":37.4,"y":10.53,"t":"Sample 5"},
      {"p":"b","k":"curve","x":36.5,"y":8.6,"t":"Sample 4"},
      {"p":"b","k":"curve","x":36.2,"y":6.67,"t":"Sample 3"},
      {"p":"b","k":"curve","x":36.0,"y":4.82,"t":"Sample 2"},
      {"p":"b","k":"curve","x":35.8,"y":2.75,"t":"Sample 1"},
      {"p":"b","k":"curve","x":36.2,"y":0.77,"t":"Virgin material"}
    ]
  },
  "vconcat": [
    {
      "width": 500,
      "height": 322,
      "layer": [
        {
          "data": {"name": "curves"},
          "transform": [{"filter": "datum.p === 'a'"}],
          "mark": {"type": "line", "color": "black", "strokeWidth": 1.7, "strokeJoin": "round"},
          "encoding": {
            "x": {"field": "x", "type": "quantitative",
                  "scale": {"domain": [-1.01, 45.07], "nice": false, "zero": false},
                  "axis": {"values": [0, 10, 20, 30, 40], "labelPadding": 7,
                           "title": "Particle diameter, μ m", "titleX": 221, "titleY": 54}},
            "y": {"field": "y", "type": "quantitative",
                  "scale": {"domain": [-0.05, 8.2], "nice": false, "zero": false},
                  "axis": {"values": [0, 1, 2, 3, 4, 5, 6, 7, 8], "labelPadding": 6,
                           "title": "Differential Vol. % (per channel or diameter)", "titleX": -53, "titleY": 167}},
            "detail": {"field": "s"}
          }
        },
        {
          "data": {"name": "notes"},
          "transform": [{"filter": "datum.p === 'a' && datum.k === 'curve'"}],
          "mark": {"type": "text", "font": "DejaVu Serif", "fontWeight": "bold", "fontSize": 11.5, "color": "black"},
          "encoding": {
            "x": {"field": "x", "type": "quantitative"},
            "y": {"field": "y", "type": "quantitative"},
            "text": {"field": "t"}
          }
        },
        {
          "data": {"name": "notes"},
          "transform": [{"filter": "datum.p === 'a' && datum.k === 'panel'"}],
          "mark": {"type": "text", "font": "DejaVu Serif", "fontWeight": "bold", "fontSize": 16, "color": "black"},
          "encoding": {
            "x": {"field": "x", "type": "quantitative"},
            "y": {"field": "y", "type": "quantitative"},
            "text": {"field": "t"}
          }
        }
      ]
    },
    {
      "width": 500,
      "height": 333,
      "layer": [
        {
          "data": {"name": "curves"},
          "transform": [{"filter": "datum.p === 'b'"}],
          "mark": {"type": "line", "color": "black", "strokeWidth": 1.7, "strokeJoin": "round"},
          "encoding": {
            "x": {"field": "x", "type": "quantitative",
                  "scale": {"domain": [-0.45, 45.0], "nice": false, "zero": false},
                  "axis": {"values": [0, 10, 20, 30, 40], "labelPadding": 7,
                           "title": "Particle diameter, μ m", "titleFontSize": 16, "titleX": 229, "titleY": 52}},
            "y": {"field": "y", "type": "quantitative",
                  "scale": {"domain": [-0.05, 16.0], "nice": false, "zero": false},
                  "axis": {"values": [0, 5, 10, 15], "labelPadding": 6,
                           "title": "Differential Number % (per channel or diameter)", "titleX": -53, "titleY": 183}},
            "detail": {"field": "s"}
          }
        },
        {
          "data": {"name": "notes"},
          "transform": [{"filter": "datum.p === 'b' && datum.k === 'curve'"}],
          "mark": {"type": "text", "font": "DejaVu Serif", "fontWeight": "bold", "fontSize": 14.5, "color": "black"},
          "encoding": {
            "x": {"field": "x", "type": "quantitative"},
            "y": {"field": "y", "type": "quantitative"},
            "text": {"field": "t"}
          }
        },
        {
          "data": {"name": "notes"},
          "transform": [{"filter": "datum.p === 'b' && datum.k === 'panel'"}],
          "mark": {"type": "text", "font": "DejaVu Serif", "fontWeight": "bold", "fontSize": 16, "color": "black"},
          "encoding": {
            "x": {"field": "x", "type": "quantitative"},
            "y": {"field": "y", "type": "quantitative"},
            "text": {"field": "t"}
          }
        }
      ]
    }
  ]
}
